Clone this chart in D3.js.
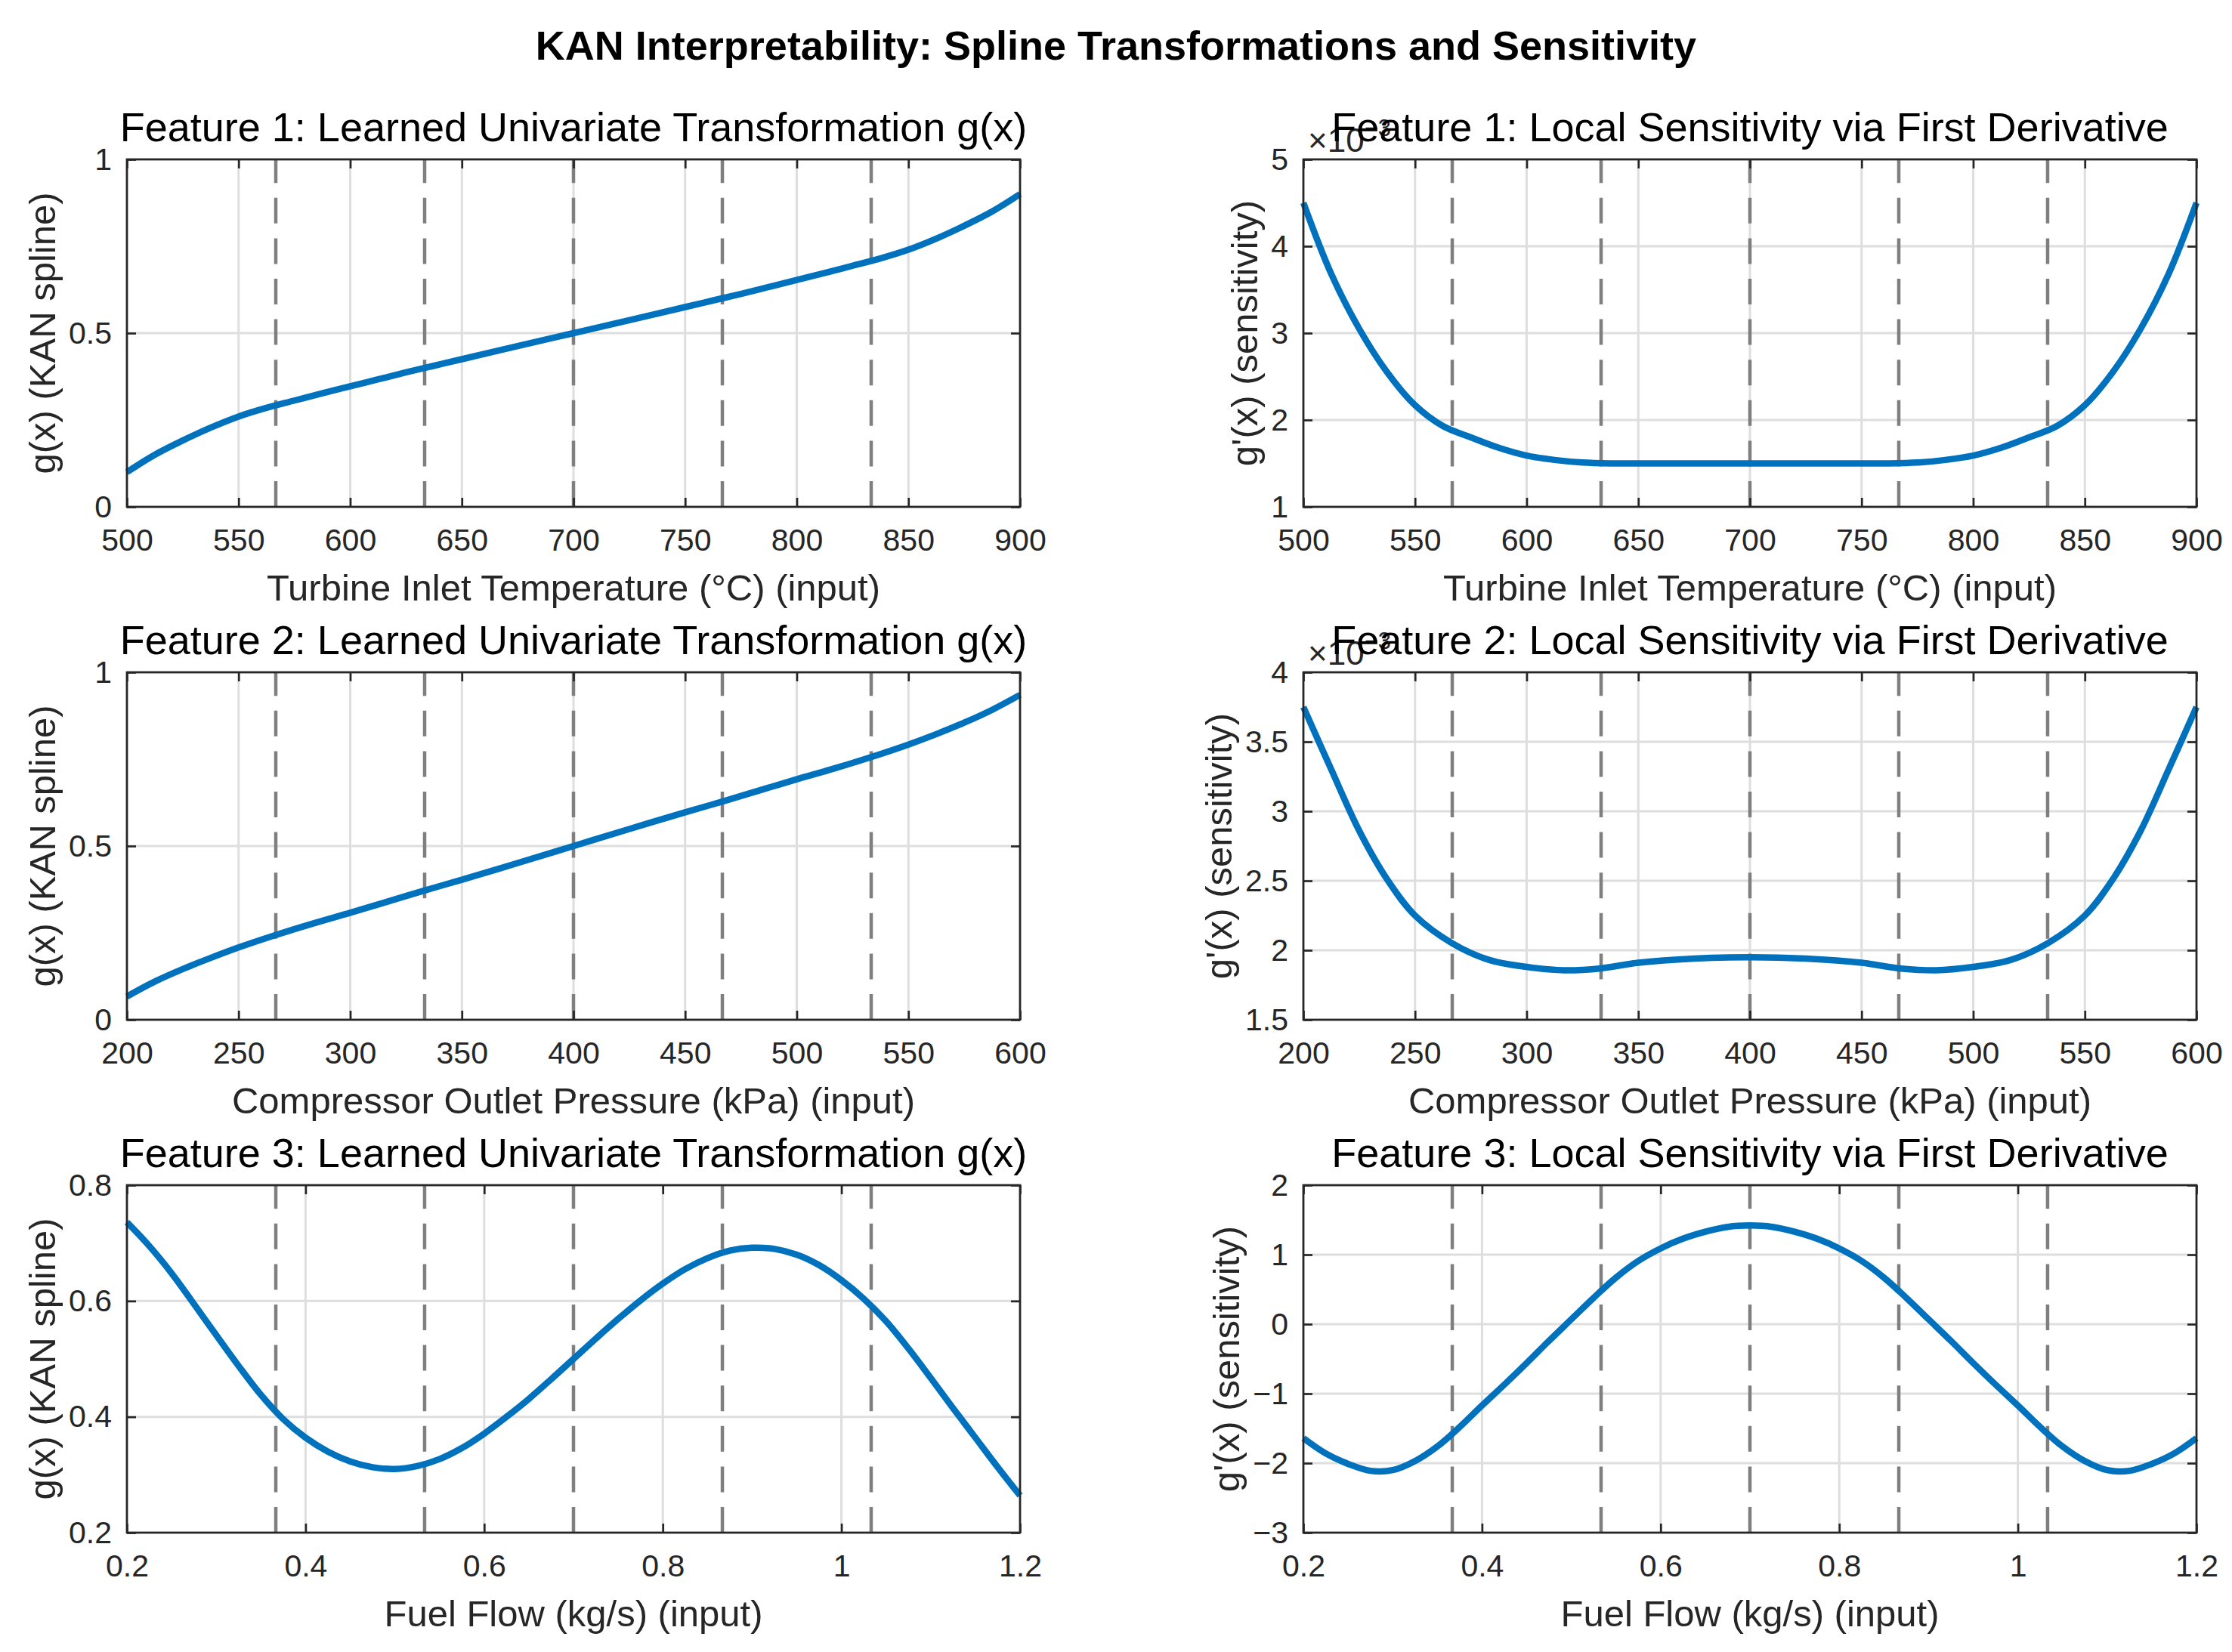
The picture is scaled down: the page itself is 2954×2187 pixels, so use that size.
<!DOCTYPE html>
<html>
<head>
<meta charset="utf-8">
<script src="https://cdn.jsdelivr.net/npm/d3@7"></script>
<style>
  body { margin: 0; background: #fff; }
  text { font-family: "Liberation Sans", Arial, Helvetica, sans-serif; }
</style>
</head>
<body>
<svg id="chart"></svg>
<script>
// Feature 1: turbine inlet temperature
const f1X = [500, 512.5, 525, 537.5, 550, 562.5, 575, 587.5, 600, 612.5, 625, 637.5, 650, 675, 700,
             725, 750, 762.5, 775, 787.5, 800, 812.5, 825, 837.5, 850, 862.5, 875, 887.5, 900];
const f1G = [0.100, 0.150, 0.191, 0.228, 0.260, 0.285, 0.306, 0.327, 0.347, 0.367, 0.387, 0.406, 0.425, 0.463, 0.500,
             0.537, 0.575, 0.594, 0.613, 0.633, 0.653, 0.673, 0.694, 0.715, 0.740, 0.772, 0.809, 0.850, 0.900];
const f1D = [4.50, 3.68, 3.05, 2.55, 2.17, 1.93, 1.80, 1.68, 1.59, 1.54, 1.51, 1.50, 1.50, 1.50, 1.50,
             1.50, 1.50, 1.50, 1.51, 1.54, 1.59, 1.68, 1.80, 1.93, 2.17, 2.55, 3.05, 3.68, 4.50];

// Feature 2: compressor outlet pressure
const f2X = [200, 212.5, 225, 237.5, 250, 266.7, 283.3, 300, 316.7, 333.3, 350, 375, 400,
             425, 450, 466.7, 483.3, 500, 516.7, 533.3, 550, 562.5, 575, 587.5, 600];
const f2G = [0.067, 0.110, 0.146, 0.178, 0.208, 0.244, 0.277, 0.308, 0.340, 0.372, 0.403, 0.451, 0.500,
             0.549, 0.597, 0.628, 0.660, 0.692, 0.723, 0.756, 0.792, 0.822, 0.855, 0.892, 0.935];
const f2D = [3.75, 3.30, 2.86, 2.51, 2.25, 2.05, 1.93, 1.88, 1.856, 1.87, 1.91, 1.94, 1.95,
             1.94, 1.91, 1.87, 1.856, 1.88, 1.93, 2.05, 2.25, 2.51, 2.86, 3.30, 3.75];

// Feature 3: fuel flow
const f3X = [0.200, 0.225, 0.250, 0.275, 0.300, 0.325, 0.350, 0.375, 0.400, 0.425, 0.450,
             0.475, 0.500, 0.525, 0.550, 0.575, 0.600, 0.625, 0.650, 0.675, 0.700,
             0.725, 0.750, 0.775, 0.800, 0.825, 0.850, 0.875, 0.900, 0.925, 0.950,
             0.975, 1.000, 1.025, 1.050, 1.075, 1.100, 1.125, 1.150, 1.175, 1.200];
const f3G = [0.736, 0.695, 0.648, 0.595, 0.541, 0.488, 0.438, 0.396, 0.364, 0.340, 0.323,
             0.313, 0.310, 0.315, 0.327, 0.346, 0.371, 0.400, 0.431, 0.465, 0.500,
             0.535, 0.569, 0.601, 0.630, 0.655, 0.674, 0.687, 0.692, 0.690, 0.680,
             0.662, 0.636, 0.604, 0.565, 0.518, 0.467, 0.415, 0.364, 0.313, 0.264];
const f3D = [-1.64, -1.86, -2.01, -2.11, -2.10, -1.97, -1.76, -1.48, -1.17, -0.87, -0.56,
             -0.24, 0.07, 0.38, 0.67, 0.91, 1.09, 1.23, 1.33, 1.40, 1.42,
             1.40, 1.33, 1.23, 1.09, 0.91, 0.67, 0.38, 0.07, -0.24, -0.56,
             -0.87, -1.17, -1.48, -1.76, -1.97, -2.10, -2.11, -2.01, -1.86, -1.64];

// spline knot positions (dashed lines)
const f1Knots = [566.67, 633.33, 700, 766.67, 833.33];
const f2Knots = [266.67, 333.33, 400, 466.67, 533.33];
const f3Knots = [0.3667, 0.5333, 0.7, 0.8667, 1.0333];

const xLabels = ['Turbine Inlet Temperature (°C) (input)', 'Compressor Outlet Pressure (kPa) (input)', 'Fuel Flow (kg/s) (input)'];
const xDomains = [[500, 900], [200, 600], [0.2, 1.2]];
const xTicks = [
    [500, 550, 600, 650, 700, 750, 800, 850, 900],
    [200, 250, 300, 350, 400, 450, 500, 550, 600],
    [0.2, 0.4, 0.6, 0.8, 1.0, 1.2]
];
const gDomains = [[0, 1], [0, 1], [0.2, 0.8]];
const gTicks = [[0, 0.5, 1], [0, 0.5, 1], [0.2, 0.4, 0.6, 0.8]];
const dDomains = [[1, 5], [1.5, 4], [-3, 2]];
const dTicks = [[1, 2, 3, 4, 5], [1.5, 2, 2.5, 3, 3.5, 4], [-3, -2, -1, 0, 1, 2]];
const dExponent = [-3, -3, null];

const features = [
    { x: f1X, g: f1G, d: f1D, knots: f1Knots },
    { x: f2X, g: f2G, d: f2D, knots: f2Knots },
    { x: f3X, g: f3G, d: f3D, knots: f3Knots }
];

const width = 2954;
const height = 2187;
const colX = [168, 1725];
const rowY = [211, 890, 1569];
const plotW = 1182;
const plotH = 460;
const tickLen = 12;
const axisColor = '#262626';

const svg = d3.select('#chart')
    .attr('width', width)
    .attr('height', height);

svg.append('rect').attr('width', width).attr('height', height).attr('fill', '#fff');

svg.append('text')
    .attr('x', width / 2)
    .attr('y', 79)
    .attr('text-anchor', 'middle')
    .style('font-size', '54px')
    .style('font-weight', 'bold')
    .attr('fill', '#000')
    .text('KAN Interpretability: Spline Transformations and Sensitivity');

function drawPanel(left, top, xs, ys, knots, xDomain, xTickVals, yDomain, yTickVals, opts) {
    const x = d3.scaleLinear().domain(xDomain).range([0, plotW]);
    const y = d3.scaleLinear().domain(yDomain).range([plotH, 0]);
    const fmt = d3.format('~g');

    const g = svg.append('g').attr('transform', `translate(${left}, ${top})`);

    // grid
    g.append('g').selectAll('line')
        .data(xTickVals)
        .enter().append('line')
        .attr('x1', d => x(d)).attr('x2', d => x(d))
        .attr('y1', 0).attr('y2', plotH)
        .attr('stroke', '#dedede').attr('stroke-width', 3);
    g.append('g').selectAll('line')
        .data(yTickVals)
        .enter().append('line')
        .attr('x1', 0).attr('x2', plotW)
        .attr('y1', d => y(d)).attr('y2', d => y(d))
        .attr('stroke', '#dedede').attr('stroke-width', 3);

    // knot lines
    g.append('g').selectAll('line')
        .data(knots)
        .enter().append('line')
        .attr('x1', d => x(d)).attr('x2', d => x(d))
        .attr('y1', plotH).attr('y2', 0)
        .attr('stroke', '#7f7f7f')
        .attr('stroke-width', 4.5)
        .attr('stroke-dasharray', '34,19.6');

    // curve
    const line = d3.line()
        .x(d => x(d[0]))
        .y(d => y(d[1]))
        .curve(d3.curveCatmullRom.alpha(0.5));
    g.append('path')
        .datum(d3.zip(xs, ys))
        .attr('d', line)
        .attr('fill', 'none')
        .attr('stroke', '#0072BD')
        .attr('stroke-width', 8.5)
        .attr('stroke-linejoin', 'round');

    // axes
    const xAxis = d3.axisBottom(x).tickValues(xTickVals).tickFormat(fmt)
        .tickSizeInner(-tickLen).tickSizeOuter(0).tickPadding(29);
    const yAxis = d3.axisLeft(y).tickValues(yTickVals).tickFormat(fmt)
        .tickSizeInner(-tickLen).tickSizeOuter(0).tickPadding(20);
    const xTop = d3.axisTop(x).tickValues(xTickVals).tickFormat('')
        .tickSizeInner(-tickLen).tickSizeOuter(0);
    const yRight = d3.axisRight(y).tickValues(yTickVals).tickFormat('')
        .tickSizeInner(-tickLen).tickSizeOuter(0);

    const yAxisG = g.append('g').call(yAxis);
    const axes = [
        g.append('g').attr('transform', `translate(0, ${plotH})`).call(xAxis),
        yAxisG,
        g.append('g').call(xTop),
        g.append('g').attr('transform', `translate(${plotW}, 0)`).call(yRight)
    ];
    axes.forEach(a => {
        a.select('.domain').remove();
        a.selectAll('line').attr('stroke', axisColor).attr('stroke-width', 2.7);
        a.selectAll('text').attr('fill', axisColor).style('font-size', '41px');
    });

    g.append('rect')
        .attr('width', plotW).attr('height', plotH)
        .attr('fill', 'none')
        .attr('stroke', axisColor)
        .attr('stroke-width', 2.7);

    // x label
    g.append('text')
        .attr('x', plotW / 2)
        .attr('y', plotH + 124)
        .attr('text-anchor', 'middle')
        .attr('fill', axisColor)
        .style('font-size', '49px')
        .text(opts.xLabel);

    // y label sits left of the widest tick label
    let maxW = 0;
    yAxisG.selectAll('text').each(function() {
        maxW = Math.max(maxW, this.getBBox().width);
    });
    const labelCenter = -(20 + maxW + 34);
    g.append('text')
        .attr('transform', `translate(${labelCenter + 16}, ${plotH / 2}) rotate(-90)`)
        .attr('text-anchor', 'middle')
        .attr('fill', axisColor)
        .style('font-size', '49px')
        .text(opts.yLabel);

    // exponent
    if (opts.exponent !== null) {
        const e = g.append('text')
            .attr('x', 6)
            .attr('y', -10)
            .attr('fill', axisColor)
            .style('font-size', '44px');
        e.append('tspan').text('×10');
        e.append('tspan')
            .attr('dy', -21)
            .style('font-size', '31px')
            .text(d3.format('~g')(opts.exponent));
    }

    // title
    g.append('text')
        .attr('x', plotW / 2)
        .attr('y', -24)
        .attr('text-anchor', 'middle')
        .attr('fill', '#000')
        .style('font-size', '54px')
        .text(opts.title);
}

features.forEach((f, i) => {
    drawPanel(colX[0], rowY[i], f.x, f.g, f.knots, xDomains[i], xTicks[i], gDomains[i], gTicks[i], {
        title: `Feature ${i + 1}: Learned Univariate Transformation g(x)`,
        xLabel: xLabels[i],
        yLabel: 'g(x) (KAN spline)',
        exponent: null
    });
    drawPanel(colX[1], rowY[i], f.x, f.d, f.knots, xDomains[i], xTicks[i], dDomains[i], dTicks[i], {
        title: `Feature ${i + 1}: Local Sensitivity via First Derivative`,
        xLabel: xLabels[i],
        yLabel: "g'(x) (sensitivity)",
        exponent: dExponent[i]
    });
});
</script>
</body>
</html>
